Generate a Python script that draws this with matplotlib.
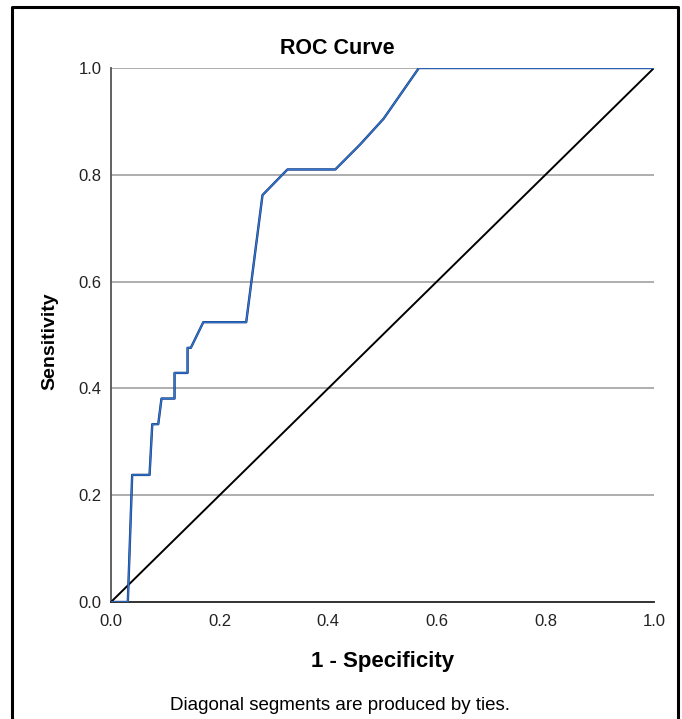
import numpy as np
import matplotlib
matplotlib.use("Agg")
import matplotlib.pyplot as plt
import matplotlib.patheffects as pe
from matplotlib.lines import Line2D

plt.rcParams['font.family'] = ['Liberation Sans', 'DejaVu Sans']

# ROC points
fpr = [0.0, 0.031, 0.039, 0.071, 0.076, 0.087, 0.093, 0.117, 0.117, 0.141,
       0.141, 0.147, 0.170, 0.249, 0.279, 0.325, 0.413, 0.459, 0.502, 0.567, 1.0]
tpr = [0.0, 0.0, 0.238, 0.238, 0.333, 0.333, 0.381, 0.381, 0.429, 0.429,
       0.476, 0.476, 0.524, 0.524, 0.762, 0.810, 0.810, 0.857, 0.905, 1.0, 1.0]
ref_line = [0.0, 1.0]
ticks = [0.0, 0.2, 0.4, 0.6, 0.8, 1.0]
tick_labels = ["0.0", "0.2", "0.4", "0.6", "0.8", "1.0"]

W, H = 682, 719
fig = plt.figure(figsize=(W / 100, H / 100), dpi=100)
ax = fig.add_axes([111 / W, 117 / H, 543 / W, 534 / H])

# grid lines
for t in ticks[1:]:
    ax.axhline(t, color='#a8a8a8', lw=1.3, zorder=1)

ax.plot(ref_line, ref_line, color='black', lw=1.4, zorder=3)
ax.plot(fpr, tpr, color='#2a7ad0', lw=1.0, zorder=4,
        path_effects=[pe.Stroke(linewidth=1.7, foreground='#1b2a6e'), pe.Normal()])

ax.set_xlim(0, 1)
ax.set_ylim(0, 1)
ax.set_xticks(ticks)
ax.set_xticklabels(tick_labels)
ax.set_yticks(ticks)
ax.set_yticklabels(tick_labels)
ax.tick_params(axis='both', length=0, labelsize=12, colors='#222222')
ax.tick_params(axis='x', pad=9)
ax.tick_params(axis='y', pad=7)
for s in ['top', 'right']:
    ax.spines[s].set_visible(False)
ax.spines['left'].set_color('#555555')
ax.spines['bottom'].set_color('#222222')
ax.spines['left'].set_linewidth(1.3)
ax.spines['bottom'].set_linewidth(1.3)

fig.text(337 / W, 1 - 49 / H, "ROC Curve", ha='center', va='center',
         fontsize=15.5, fontweight='bold')
fig.text(50 / W, 1 - 341 / H, "Sensitivity", ha='center', va='center',
         rotation=90, fontsize=14, fontweight='bold')
fig.text(383 / W, 1 - 662 / H, "1 - Specificity", ha='center', va='center',
         fontsize=16, fontweight='bold')
fig.text(340 / W, 1 - 706 / H, "Diagonal segments are produced by ties.",
         ha='center', va='center', fontsize=13.5)

# outer frame (open at the bottom)
fx = [11.5 / W, 11.5 / W, 677.5 / W, 677.5 / W]
fy = [0.0, 1 - 7 / H, 1 - 7 / H, 0.0]
fig.add_artist(Line2D(fx, fy, color='black', lw=2.2, transform=fig.transFigure))

fig.savefig("out.png", dpi=100)
